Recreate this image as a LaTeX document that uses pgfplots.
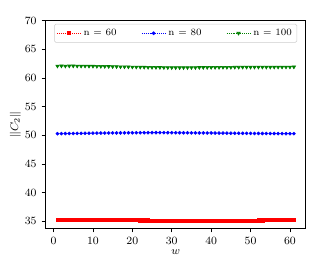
\documentclass[border=0pt]{standalone}
\usepackage{pgfplots}
\pgfplotsset{compat=1.18}
\usepackage{pgfplotstable}
\pgfplotstableread{
w a b c
1 35.22 50.30 62.10
2 35.24 50.31 62.12
3 35.26 50.32 62.10
4 35.28 50.33 62.11
5 35.30 50.34 62.12
6 35.30 50.35 62.10
7 35.29 50.36 62.09
8 35.28 50.37 62.10
9 35.28 50.38 62.08
10 35.27 50.39 62.07
11 35.27 50.40 62.05
12 35.26 50.41 62.04
13 35.25 50.41 62.03
14 35.24 50.42 62.02
15 35.23 50.43 62.00
16 35.22 50.43 61.99
17 35.21 50.44 61.97
18 35.21 50.44 61.96
19 35.20 50.45 61.95
20 35.20 50.45 61.93
21 35.20 50.46 61.92
22 35.19 50.46 61.91
23 35.19 50.47 61.90
24 35.19 50.47 61.88
25 35.18 50.48 61.87
26 35.18 50.48 61.86
27 35.18 50.48 61.85
28 35.18 50.47 61.84
29 35.17 50.47 61.83
30 35.17 50.47 61.82
31 35.17 50.46 61.82
32 35.17 50.46 61.81
33 35.16 50.45 61.82
34 35.16 50.45 61.83
35 35.16 50.44 61.83
36 35.16 50.44 61.84
37 35.16 50.43 61.85
38 35.16 50.43 61.85
39 35.16 50.42 61.86
40 35.16 50.42 61.86
41 35.16 50.41 61.87
42 35.16 50.40 61.87
43 35.16 50.40 61.88
44 35.16 50.39 61.88
45 35.16 50.38 61.88
46 35.17 50.38 61.89
47 35.17 50.37 61.89
48 35.17 50.36 61.90
49 35.17 50.36 61.90
50 35.18 50.35 61.90
51 35.18 50.34 61.91
52 35.19 50.34 61.91
53 35.19 50.33 61.91
54 35.20 50.33 61.91
55 35.20 50.32 61.91
56 35.21 50.32 61.92
57 35.22 50.31 61.92
58 35.23 50.31 61.92
59 35.24 50.30 61.93
60 35.25 50.30 61.93
61 35.25 50.30 61.94
}\datatable
\begin{document}
\begin{tikzpicture}
\begin{axis}[
  name=ax,
  scale only axis,
  width=188pt, height=150pt,
  xmin=-2, xmax=64, ymin=33.8, ymax=70,
  xtick={0,10,...,60}, ytick={35,40,...,70},
  tick align=outside, tick pos=left,
  major tick length=3pt,
  tick style={black, line width=0.6pt},
  axis line style={line width=0.8pt},
  tick label style={font=\fontsize{8.5}{10}\selectfont},
  xlabel={$w$}, ylabel={$\|C_2\|$},
  label style={font=\fontsize{8.5}{10}\selectfont},
  xlabel style={yshift=3pt},
  ylabel style={yshift=-4pt},
  legend columns=3,
  legend style={at={(0.5,0.985)}, anchor=north, draw=black!20, rounded corners=1pt,
    font=\fontsize{7}{8}\selectfont, inner sep=1.5pt,
    /tikz/every even column/.append style={column sep=16pt}},
  legend cell align=left,
]
\addplot[red, densely dotted, mark=square*, mark size=1.1pt, mark options={solid}] table[x=w,y=a]{\datatable};
\addlegendentry{n = 60}
\addplot[blue, densely dotted, mark=*, mark size=1.1pt, mark options={solid}] table[x=w,y=b]{\datatable};
\addlegendentry{n = 80}
\addplot[green!50!black, densely dotted, mark=triangle*, mark size=1.4pt, mark options={solid, rotate=180}] table[x=w,y=c]{\datatable};
\addlegendentry{n = 100}
\end{axis}
\path ([shift={(-33pt,-27pt)}]ax.south west) rectangle ([shift={(19pt,15pt)}]ax.north east);
\end{tikzpicture}
\end{document}
